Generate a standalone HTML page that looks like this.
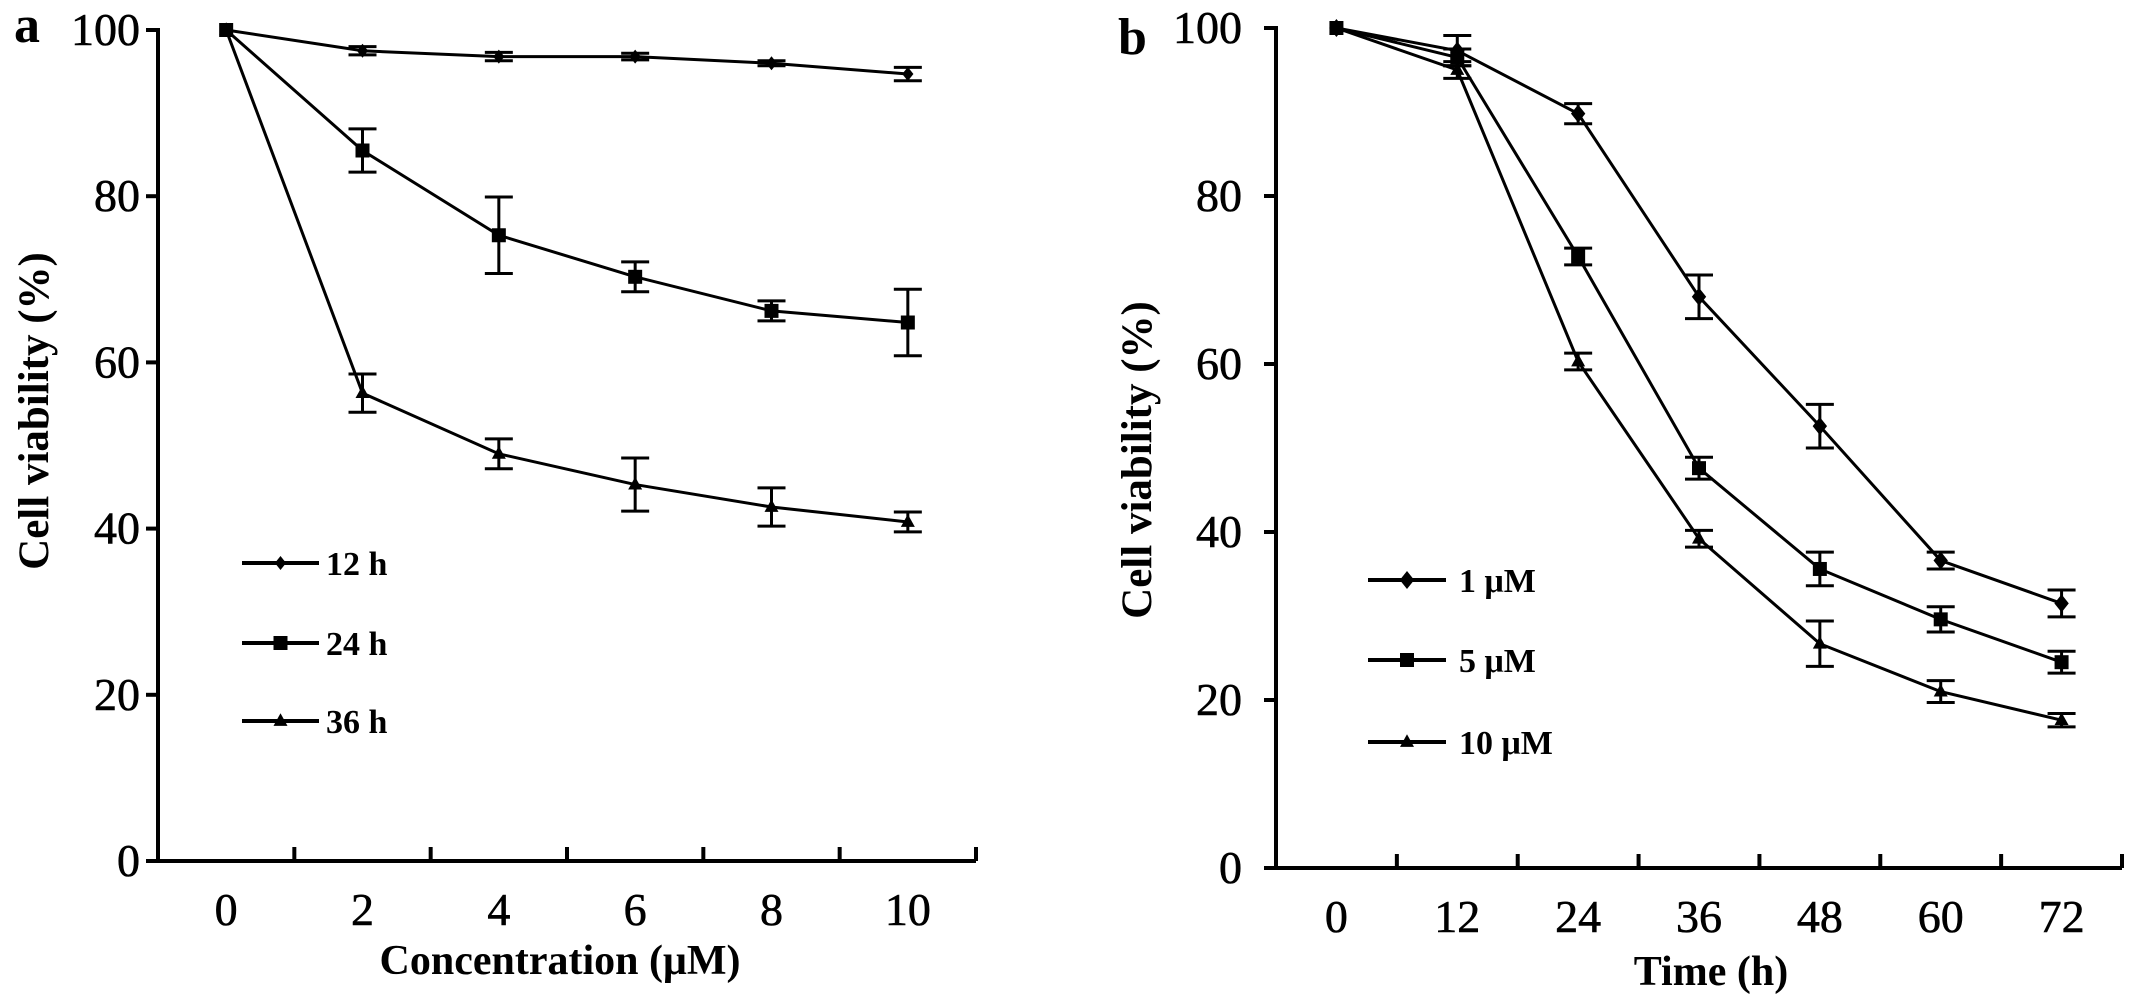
<!DOCTYPE html>
<html><head><meta charset="utf-8"><style>
html,body{margin:0;padding:0;background:#fff;}
svg{display:block;font-family:"Liberation Serif",serif;}
</style></head><body>
<svg id="fig" width="2137" height="1002" viewBox="0 0 2137 1002"></svg>
<script>
// Panel a data
const catsA = ["0","2","4","6","8","10"];
const a12 = [100,97.5,96.8,96.8,96.0,94.7];
const a12e = [0,0.5,0.5,0.4,0.3,0.8];
const a24 = [100,85.5,75.3,70.3,66.2,64.8];
const a24e = [0,2.6,4.6,1.8,1.2,4.0];
const a36 = [100,56.3,49.0,45.3,42.6,40.8];
const a36e = [0,2.3,1.8,3.2,2.3,1.2];
// Panel b data
const catsB = ["0","12","24","36","48","60","72"];
const b1 = [100,97.3,89.8,68.0,52.6,36.6,31.5];
const b1e = [0,1.8,1.2,2.6,2.6,1.0,1.6];
const b5 = [100,96.5,72.8,47.6,35.6,29.6,24.5];
const b5e = [0,1.0,1.0,1.3,2.0,1.5,1.3];
const b10 = [100,95.0,60.3,39.2,26.7,21.0,17.6];
const b10e = [0,1.0,1.0,1.0,2.7,1.3,0.8];
const yTicks = [0,20,40,60,80,100];

const NS="http://www.w3.org/2000/svg";
const svg=document.getElementById('fig');
function el(tag,attrs,parent){const e=document.createElementNS(NS,tag);for(const k in attrs)e.setAttribute(k,attrs[k]);(parent||svg).appendChild(e);return e;}

function marker(g,type,cx,cy,s){
  let m;
  if(type==='diamond'){m=el('polygon',{points:`${cx},${cy-s} ${cx+s*0.8},${cy} ${cx},${cy+s} ${cx-s*0.8},${cy}`,fill:'#000'},g);}
  else if(type==='square'){m=el('rect',{x:cx-s,y:cy-s,width:2*s,height:2*s,fill:'#000'},g);}
  else {m=el('polygon',{points:`${cx},${cy-s*1.1} ${cx+s},${cy+s*0.7} ${cx-s},${cy+s*0.7}`,fill:'#000'},g);}
  return m;
}

function panel(cfg){
  const {id,x0,x1,y0,y100,cats,series,label,lx,ly,xTitle,xtx,xty,yTitleX,yTitleY,tickRight,legend}=cfg;
  const g=el('g',{});
  
  
  const step=(x1-x0)/cats.length;
  const X=i=>x0+step*(i+0.5);
  const Y=v=>y0-(v/100)*(y0-y100);
  const ya=el('line',{x1:x0,y1:Y(100)-2,x2:x0,y2:y0+2,stroke:'#000','stroke-width':4},g);
  
  const xa=el('line',{x1:x0-2,y1:y0,x2:x1,y2:y0,stroke:'#000','stroke-width':4},g);
  
  yTicks.forEach(t=>{
    el('line',{x1:x0-12,y1:Y(t),x2:x0,y2:Y(t),stroke:'#000','stroke-width':4},g);
    const tx=el('text',{x:tickRight,y:Y(t)+15,'text-anchor':'end','font-size':46,stroke:'#000','stroke-width':0.6},g);
    tx.textContent=t;
    
  });
  for(let i=1;i<=cats.length;i++){
    el('line',{x1:x0+step*i,y1:y0,x2:x0+step*i,y2:y0-14,stroke:'#000','stroke-width':4},g);
  }
  cats.forEach((c,i)=>{
    const tx=el('text',{x:X(i),y:y0+64,'text-anchor':'middle','font-size':46,stroke:'#000','stroke-width':0.6},g);
    tx.textContent=c;
    
  });
  series.forEach(s=>{
    const sg=el('g',{},g);
    
    
    el('polyline',{points:s.v.map((v,i)=>`${X(i)},${Y(v)}`).join(' '),fill:'none',stroke:'#000','stroke-width':3},sg);
    s.v.forEach((v,i)=>{
      const e=s.e[i];
      if(e>0){
        el('line',{x1:X(i),y1:Y(v+e),x2:X(i),y2:Y(v-e),stroke:'#000','stroke-width':3},sg);
        el('line',{x1:X(i)-14,y1:Y(v+e),x2:X(i)+14,y2:Y(v+e),stroke:'#000','stroke-width':3},sg);
        el('line',{x1:X(i)-14,y1:Y(v-e),x2:X(i)+14,y2:Y(v-e),stroke:'#000','stroke-width':3},sg);
      }
      const m=marker(sg,s.type,X(i),Y(v),s.size);
      
      
    });
  });
  legend.entries.forEach((le,k)=>{
    const lg=el('g',{},g);
    
    
    const yy=legend.ys[k];
    el('line',{x1:legend.x1,y1:yy,x2:legend.x2,y2:yy,stroke:'#000','stroke-width':4},lg);
    marker(lg,le.type,(legend.x1+legend.x2)/2,yy,le.size);
    const t=el('text',{x:legend.tx,y:yy+12,'font-size':34,'font-weight':'bold'},lg);
    t.textContent=le.label;
  });
  const xt=el('text',{x:xtx,y:xty,'text-anchor':'middle','font-size':42,'font-weight':'bold'},g);
  xt.textContent=xTitle;
  
  const yt=el('text',{x:0,y:0,'text-anchor':'middle','font-size':43,'font-weight':'bold',transform:`translate(${yTitleX},${yTitleY}) rotate(-90)`},g);
  yt.textContent='Cell viability (%)';
  
  const pl=el('text',{x:lx,y:ly,'font-size':52,'font-weight':'bold'},g);
  pl.textContent=label;
  
}

panel({id:'panel-a',x0:158,x1:976,y0:861,y100:30,cats:catsA,
  series:[{name:'series-12h',v:a12,e:a12e,type:'diamond',size:7},
          {name:'series-24h',v:a24,e:a24e,type:'square',size:7},
          {name:'series-36h',v:a36,e:a36e,type:'triangle',size:7}],
  label:'a',lx:14,ly:42,xTitle:'Concentration (μM)',xtx:560,xty:974,yTitleX:48,yTitleY:411,tickRight:140,
  legend:{x1:242,x2:319,tx:326,ys:[563,643,721],entries:[{label:'12 h',type:'diamond',size:7},{label:'24 h',type:'square',size:7},{label:'36 h',type:'triangle',size:7}]}
});
panel({id:'panel-b',x0:1276,x1:2122,y0:868,y100:28,cats:catsB,
  series:[{name:'series-1uM',v:b1,e:b1e,type:'diamond',size:9},
          {name:'series-5uM',v:b5,e:b5e,type:'square',size:7},
          {name:'series-10uM',v:b10,e:b10e,type:'triangle',size:7}],
  label:'b',lx:1118,ly:54,xTitle:'Time (h)',xtx:1711,xty:985,yTitleX:1151,yTitleY:460,tickRight:1242,
  legend:{x1:1368,x2:1446,tx:1459,ys:[580,660,742],entries:[{label:'1 μM',type:'diamond',size:9},{label:'5 μM',type:'square',size:7},{label:'10 μM',type:'triangle',size:7}]}
});
</script>
</body></html>
